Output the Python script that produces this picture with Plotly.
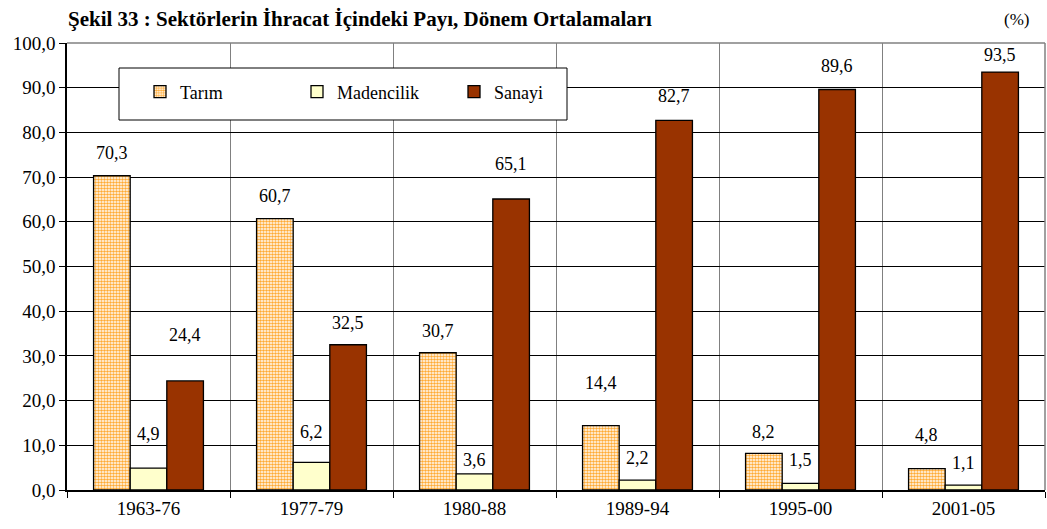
import plotly.graph_objects as go

periods = ["1963-76", "1977-79", "1980-88", "1989-94", "1995-00", "2001-05"]
tarim = [70.3, 60.7, 30.7, 14.4, 8.2, 4.8]
madencilik = [4.9, 6.2, 3.6, 2.2, 1.5, 1.1]
sanayi = [24.4, 32.5, 65.1, 82.7, 89.6, 93.5]
series_names = ["Tarım", "Madencilik", "Sanayi"]
y_ticks = [0, 10, 20, 30, 40, 50, 60, 70, 80, 90, 100]

# label lift above bar top (pixels) - styling only
label_lift = [
    [23, 23, 22, 43, 21, 34],
    [34, 30, 14, 22, 23, 22],
    [46, 22, 35, 24, 23, 17],
]

FONT = "Liberation Serif, Times New Roman, serif"
L, R, T, B = 67, 2, 43, 39
W, H = 1047, 529
plot_w = W - L - R
ph = H - T - B
BARGAP = 0.326
bar_px = plot_w / len(periods) * (1 - BARGAP) / 3


def px_x(x):
    return (x - L) / plot_w


def px_y(y):
    return (H - B - y) / ph


fig = go.Figure()
fig.add_trace(go.Bar(
    name=series_names[0], x=periods, y=tarim,
    marker=dict(color="white",
                pattern=dict(shape=".", size=3, solidity=0.55,
                             fgcolor="#FFAA33", bgcolor="white", fillmode="replace"),
                line=dict(color="black", width=1.3)),
))
fig.add_trace(go.Bar(
    name=series_names[1], x=periods, y=madencilik,
    marker=dict(color="#FFFFCC", line=dict(color="black", width=1.3)),
))
fig.add_trace(go.Bar(
    name=series_names[2], x=periods, y=sanayi,
    marker=dict(color="#993300", line=dict(color="black", width=1.3)),
))

annotations = []
for si, vals in enumerate([tarim, madencilik, sanayi]):
    for ci, v in enumerate(vals):
        annotations.append(dict(
            x=periods[ci], y=v, xref="x", yref="y",
            text=f"{v:.1f}".replace(".", ","), showarrow=False,
            xshift=(si - 1) * bar_px, yshift=label_lift[si][ci],
            yanchor="middle", font=dict(family=FONT, size=18, color="black"),
        ))

annotations.append(dict(
    text="<b>Şekil 33 : Sektörlerin İhracat İçindeki Payı, Dönem Ortalamaları</b>",
    xref="paper", yref="paper", x=px_x(66), y=px_y(19),
    xanchor="left", yanchor="middle", showarrow=False,
    font=dict(family=FONT, size=21, color="black"),
))
annotations.append(dict(
    text="(%)", xref="paper", yref="paper", x=px_x(1031),
    y=px_y(20), xanchor="right", yanchor="middle",
    showarrow=False, font=dict(family=FONT, size=17, color="black"),
))

fig.update_layout(
    width=W, height=H,
    margin=dict(l=L, r=R, t=T, b=B),
    paper_bgcolor="white", plot_bgcolor="white",
    barmode="group", bargap=BARGAP, bargroupgap=0,
    separators=",.",
    font=dict(family=FONT, size=17, color="black"),
    showlegend=True,
    legend=dict(
        orientation="h", x=px_x(140), y=px_y(92),
        xanchor="left", yanchor="middle", bgcolor="rgba(0,0,0,0)",
        borderwidth=0, font=dict(family=FONT, size=18, color="black"),
        entrywidth=112, entrywidthmode="pixels",
    ),
    annotations=annotations,
    shapes=[
        dict(type="rect", xref="paper", yref="paper",
             x0=px_x(119), x1=px_x(567), y0=px_y(120), y1=px_y(68),
             fillcolor="white", line=dict(color="black", width=1), layer="above"),
        dict(type="line", xref="paper", yref="paper", x0=0, x1=1, y0=1, y1=1,
             line=dict(color="#808080", width=1.5), layer="above"),
        dict(type="line", xref="paper", yref="paper", x0=1, x1=1, y0=0, y1=1,
             line=dict(color="#808080", width=1.5), layer="above"),
    ],
    xaxis=dict(
        type="category", tickson="boundaries", ticks="outside", ticklen=6,
        tickcolor="black", showgrid=True, gridcolor="#808080", gridwidth=1,
        showline=True, linecolor="black", linewidth=1.5,
        tickfont=dict(family=FONT, size=19, color="black"),
    ),
    yaxis=dict(
        range=[0, 100], tickvals=y_ticks, tickformat=".1f",
        ticks="outside", ticklen=6, tickcolor="black",
        showgrid=True, gridcolor="black", gridwidth=1, zeroline=False,
        showline=True, linecolor="black", linewidth=1.5,
        tickfont=dict(family=FONT, size=19, color="black"),
    ),
)

fig.write_html(
    "out.html",
    config={"displayModeBar": False},
    post_script="document.body.style.margin='0';document.body.style.overflow='hidden';",
)
